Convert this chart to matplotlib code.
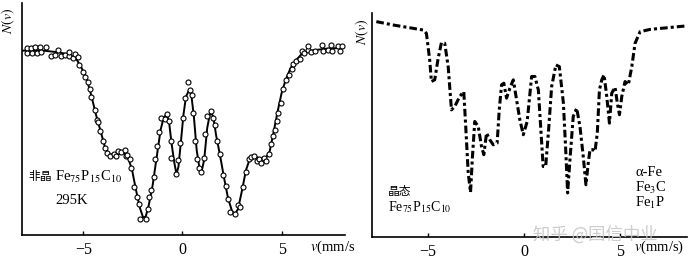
import matplotlib.pyplot as plt

plt.rcParams['font.family'] = ['Liberation Serif', 'Noto Sans CJK SC']
plt.rcParams['mathtext.fontset'] = 'stix'

# left panel: amorphous Fe75P15C10, fitted curve
fit_v = [-8.1, -7.0, -6.2, -5.7, -5.35, -5.1, -4.85, -4.6, -4.35, -4.1, -3.9, -3.7,
         -3.5, -3.2, -2.95, -2.75, -2.55, -2.35, -2.15, -1.98, -1.85, -1.7, -1.5, -1.3,
         -1.1, -0.95, -0.8, -0.68, -0.55, -0.42, -0.3, -0.2, -0.08, 0.05, 0.18, 0.33,
         0.45, 0.58, 0.72, 0.85, 0.97, 1.1, 1.25, 1.4, 1.55, 1.7, 1.9, 2.1, 2.3, 2.5,
         2.65, 2.8, 3.0, 3.2, 3.4, 3.6, 3.9, 4.2, 4.4, 4.6, 4.8, 5.0, 5.2, 5.45, 5.7,
         6.0, 6.5, 7.2, 8.1]
fit_n = [1.0, 1.0, 0.99, 0.978, 0.955, 0.91, 0.855, 0.76, 0.65, 0.555, 0.475, 0.44,
         0.435, 0.44, 0.445, 0.42, 0.36, 0.25, 0.15, 0.095, 0.1, 0.16, 0.27, 0.42,
         0.57, 0.635, 0.655, 0.62, 0.5, 0.4, 0.33, 0.37, 0.5, 0.65, 0.75, 0.785,
         0.76, 0.64, 0.46, 0.37, 0.345, 0.41, 0.58, 0.665, 0.645, 0.54, 0.43, 0.31, 0.2, 0.13,
         0.115, 0.14, 0.24, 0.35, 0.415, 0.43, 0.415, 0.415, 0.455, 0.56, 0.67, 0.77, 0.84, 0.905, 0.945,
         0.98, 1.0, 1.01, 1.015]

# left panel: measured points
meas_v = [-7.85, -7.85, -7.63, -7.58, -7.41, -7.35, -7.17, -7.12, -6.9, -6.62, -6.4, -6.28,
          -6.11, -5.94, -5.72, -5.7, -5.49, -5.39, -5.27, -5.19, -5.02, -4.9, -4.77, -4.65,
          -4.6, -4.43, -4.29, -4.23, -4.14, -4.01, -3.92, -3.81, -3.64, -3.47, -3.33, -3.25,
          -3.08, -2.91, -2.86, -2.8, -2.66, -2.58, -2.46, -2.29, -2.19, -2.12, -1.85, -1.74,
          -1.69, -1.57, -1.45, -1.4, -1.28, -1.18, -1.06, -0.89, -0.78, -0.68, -0.56, -0.56,
          -0.3, -0.22, -0.14, 0.03, 0.12, 0.28, 0.37, 0.5, 0.54, 0.64, 0.74, 0.84,
          0.96, 1.09, 1.16, 1.26, 1.43, 1.55, 1.63, 1.75, 1.88, 2.05, 2.19, 2.3,
          2.39, 2.64, 2.78, 2.89, 3.06, 3.18, 3.35, 3.48, 3.62, 3.74, 3.87, 3.95,
          4.12, 4.21, 4.36, 4.49, 4.58, 4.66, 4.75, 4.8, 4.96, 5.08, 5.2, 5.37,
          5.5, 5.59, 5.71, 5.92, 6.04, 6.14, 6.31, 6.34, 6.48, 6.68, 7.02, 7.1,
          7.32, 7.49, 7.56, 7.83, 7.94, 8.03]
meas_n = [1.014, 0.987, 1.014, 0.987, 1.018, 0.987, 1.018, 0.991, 1.018, 0.969, 0.977, 1.005,
          0.969, 0.977, 0.973, 0.994, 0.959, 0.982, 0.964, 0.92, 0.884, 0.857, 0.83, 0.791,
          0.75, 0.679, 0.625, 0.612, 0.562, 0.509, 0.473, 0.446, 0.428, 0.441, 0.428, 0.455,
          0.452, 0.459, 0.428, 0.434, 0.411, 0.366, 0.262, 0.205, 0.17, 0.089, 0.089, 0.143,
          0.205, 0.245, 0.316, 0.411, 0.482, 0.559, 0.634, 0.63, 0.655, 0.616, 0.509, 0.416,
          0.33, 0.405, 0.5, 0.637, 0.741, 0.83, 0.786, 0.759, 0.66, 0.509, 0.411, 0.366,
          0.344, 0.419, 0.548, 0.643, 0.67, 0.634, 0.598, 0.512, 0.437, 0.327, 0.268, 0.197,
          0.125, 0.116, 0.161, 0.152, 0.259, 0.344, 0.411, 0.423, 0.428, 0.402, 0.411, 0.393,
          0.416, 0.402, 0.441, 0.491, 0.536, 0.571, 0.616, 0.66, 0.714, 0.791, 0.839, 0.869,
          0.898, 0.928, 0.941, 0.955, 1.0, 0.987, 1.005, 1.027, 0.991, 1.0, 1.03, 1.0,
          1.005, 1.03, 1.0, 1.027, 1.0, 1.027]

# right panel: crystallised Fe75P15C10
cr_v = [-7.66, -6.79, -5.23, -5.06, -4.89, -4.8, -4.63, -4.45, -4.28, -4.11, -3.93, -3.76,
        -3.59, -3.33, -3.12, -3.02, -2.89, -2.77, -2.67, -2.55, -2.37, -2.2, -2.08, -1.94,
        -1.77, -1.59, -1.39, -1.28, -1.16, -1.04, -0.9, -0.73, -0.55, -0.38, -0.21, -0.03,
        0.17, 0.4, 0.57, 0.75, 0.88, 1.0, 1.13, 1.27, 1.44, 1.66, 1.84, 2.05,
        2.17, 2.27, 2.39, 2.56, 2.74, 2.91, 3.08, 3.22, 3.34, 3.43, 3.57, 3.69,
        3.81, 3.92, 4.04, 4.16, 4.3, 4.44, 4.56, 4.73, 4.85, 4.96, 5.08, 5.25,
        5.42, 5.6, 5.77, 6.03, 6.55, 8.37]
cr_n = [1.024, 1.008, 0.984, 0.968, 0.842, 0.739, 0.747, 0.85, 0.924, 0.921, 0.81, 0.604,
        0.62, 0.668, 0.691, 0.525, 0.304, 0.212, 0.383, 0.549, 0.525, 0.43, 0.391, 0.494,
        0.462, 0.438, 0.446, 0.604, 0.723, 0.731, 0.66, 0.707, 0.747, 0.652, 0.557, 0.486,
        0.549, 0.763, 0.763, 0.699, 0.509, 0.335, 0.335, 0.494, 0.715, 0.818, 0.81, 0.636,
        0.415, 0.209, 0.367, 0.573, 0.612, 0.525, 0.383, 0.248, 0.351, 0.415, 0.415, 0.407,
        0.494, 0.699, 0.747, 0.771, 0.668, 0.541, 0.684, 0.712, 0.636, 0.581, 0.668, 0.739,
        0.723, 0.81, 0.921, 0.976, 0.987, 1.003]

ticks = [-5, 0, 5]
tick_labels = ['\u22125', '0', '5']

fig = plt.figure(figsize=(7, 2.65), dpi=100)
ax1 = fig.add_axes([0.031, 0.113, 0.462, 0.877])
ax2 = fig.add_axes([0.531, 0.106, 0.45, 0.845])

ax1.plot(fit_v, fit_n, color='black', lw=1.4, zorder=2)
ax1.scatter(meas_v, meas_n, s=13, facecolors='white', edgecolors='black', linewidths=0.8, zorder=3)
ax1.set_xlim(-8.1, 8.2)
ax1.set_ylim(0, 1.26)

ax2.plot(cr_v, cr_n, color='black', lw=2.2, linestyle=(0, (2.5, 1, 1, 1)))
ax2.set_xlim(-7.9, 8.45)
ax2.set_ylim(0, 1.065)

for ax in (ax1, ax2):
    for s in ('top', 'right'):
        ax.spines[s].set_visible(False)
    ax.spines['left'].set_linewidth(1.2)
    ax.spines['bottom'].set_linewidth(1.2)
    ax.set_yticks([])
    ax.set_xticks(ticks)
    ax.set_xticklabels(tick_labels)
    ax.tick_params(axis='x', direction='in', length=3, width=1, labelsize=11.5, pad=5)

# axis labels
fig.text(0.012, 0.97, r'$N(v)$', rotation=90, ha='center', va='top', fontsize=10)
fig.text(0.517, 0.93, r'$N(v)$', rotation=90, ha='center', va='top', fontsize=10)
fig.text(0.443, 0.065, r'$v$(mm/s', ha='left', va='center', fontsize=10.5)
fig.text(0.905, 0.065, r'$v$(mm/s)', ha='left', va='center', fontsize=10.5)

# annotations
ax1.text(0.02, 0.25, '非晶', transform=ax1.transAxes, fontsize=8.5, ha='left', va='center')
ax1.text(0.103, 0.25, 'Fe$_{75}$P$_{15}$C$_{10}$', transform=ax1.transAxes,
         fontsize=10.5, ha='left', va='center')
ax1.text(0.103, 0.15, '295K', transform=ax1.transAxes, fontsize=10.5, ha='left', va='center')
ax2.text(0.052, 0.20, '晶态', transform=ax2.transAxes, fontsize=8.5, ha='left', va='center')
ax2.text(0.052, 0.135, 'Fe$_{75}$P$_{15}$C$_{10}$', transform=ax2.transAxes,
         fontsize=10, ha='left', va='center')
ax2.text(0.836, 0.286, 'α-Fe', transform=ax2.transAxes, fontsize=10.5, ha='left', va='center')
ax2.text(0.836, 0.219, 'Fe$_3$C', transform=ax2.transAxes, fontsize=10.5, ha='left', va='center')
ax2.text(0.836, 0.152, 'Fe$_1$P', transform=ax2.transAxes, fontsize=10.5, ha='left', va='center')

# watermark
fig.text(0.762, 0.115, '知乎 @国信中业', fontsize=12.5, color='#c8c8c8', ha='left', va='center',
         family=['Noto Sans CJK SC', 'DejaVu Sans'], alpha=0.9)

fig.savefig('out.png', dpi=100)
